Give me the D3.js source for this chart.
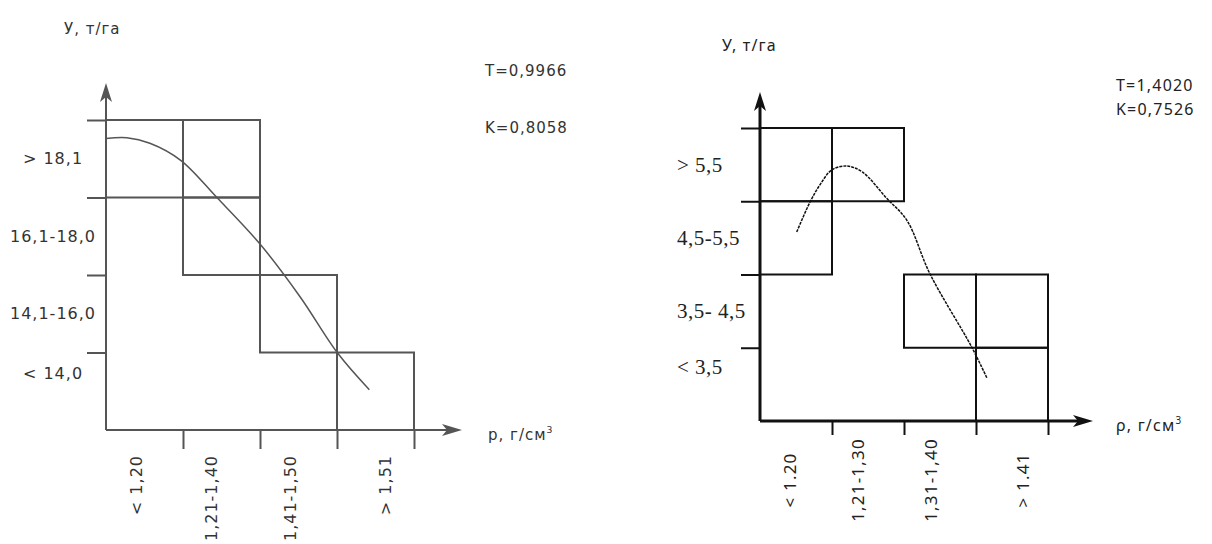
<!DOCTYPE html>
<html>
<head>
<meta charset="utf-8">
<script src="https://cdn.jsdelivr.net/npm/d3@7"></script>
<style>
  body { margin: 0; background: #fff; }
  svg { display: block; }
</style>
</head>
<body>
<svg id="chart" width="1212" height="544"></svg>
<script>
// left chart: yield vs soil density, first sample
const rowLabelsA = ["< 14,0", "14,1-16,0", "16,1-18,0", "> 18,1"];
const colLabelsA = ["< 1,20", "1,21-1,40", "1,41-1,50", "> 1,51"];
const cellsA = [[0, 3], [1, 3], [1, 2], [2, 1], [3, 0]]; // [column, row]
const curveA = [[0, 3.76], [0.27, 3.77], [0.57, 3.7], [0.97, 3.48], [1.44, 3.0],
  [2.0, 2.4], [2.52, 1.72], [3.01, 0.99], [3.42, 0.52]];
const statsA = ["T=0,9966", "K=0,8058"];

// right chart: second sample
const rowLabelsB = ["< 3,5", "3,5- 4,5", "4,5-5,5", "> 5,5"];
const colLabelsB = ["< 1.20", "1,21-1,30", "1,31-1,40", "> 1.41"];
const cellsB = [[0, 3], [1, 3], [0, 2], [2, 1], [3, 1], [3, 0]];
const curveB = [[0.51, 2.58], [0.69, 2.98], [0.83, 3.22], [1.0, 3.43], [1.21, 3.48],
  [1.42, 3.4], [1.76, 3.04], [2.04, 2.74], [2.36, 2.01], [2.94, 1.01], [3.15, 0.59]];
const statsB = ["T=1,4020", "K=0,7526"];

const svg = d3.select("#chart");

function drawPanel(opt) {
  const g = svg.append("g");
  const x = d3.scaleLinear().domain([0, 4]).range([opt.x0, opt.x1]);
  const y = d3.scaleLinear().domain([0, 4]).range([opt.y0, opt.y1]);

  // ticks
  const yAxis = g.append("g")
    .attr("transform", `translate(${opt.x0},0)`)
    .call(d3.axisLeft(y).tickValues([1, 2, 3, 4]).tickSize(19).tickFormat(""));
  const xAxis = g.append("g")
    .attr("transform", `translate(0,${opt.y0})`)
    .call(d3.axisBottom(x).tickValues([1, 2, 3, 4]).tickSize(opt.xTick).tickFormat(""));
  [yAxis, xAxis].forEach(a => {
    a.select(".domain").remove();
    a.selectAll("line").attr("stroke", opt.color).attr("stroke-width", opt.lw);
  });

  // cells
  g.selectAll("rect.cell").data(opt.cells).join("rect")
    .attr("class", "cell")
    .attr("x", d => x(d[0]))
    .attr("y", d => y(d[1] + 1))
    .attr("width", d => x(d[0] + 1) - x(d[0]))
    .attr("height", d => y(d[1]) - y(d[1] + 1))
    .attr("fill", "none")
    .attr("stroke", opt.color)
    .attr("stroke-width", opt.lw);

  // axes with arrows
  g.append("line")
    .attr("x1", opt.x0).attr("y1", opt.y0)
    .attr("x2", opt.x0).attr("y2", opt.yTip + 10)
    .attr("stroke", opt.color).attr("stroke-width", opt.axisW);
  g.append("line")
    .attr("x1", opt.x0).attr("y1", opt.y0)
    .attr("x2", opt.xTip - 10).attr("y2", opt.y0)
    .attr("stroke", opt.color).attr("stroke-width", opt.axisW);
  g.append("path")
    .attr("d", `M${opt.x0},${opt.yTip} L${opt.x0 - 6},${opt.yTip + 19} L${opt.x0},${opt.yTip + 14} L${opt.x0 + 6},${opt.yTip + 19}Z`)
    .attr("fill", opt.color);
  g.append("path")
    .attr("d", `M${opt.xTip},${opt.y0} L${opt.xTip - 20},${opt.y0 - 6} L${opt.xTip - 15},${opt.y0} L${opt.xTip - 20},${opt.y0 + 6}Z`)
    .attr("fill", opt.color);

  // fitted curve
  g.append("path")
    .datum(opt.curve)
    .attr("d", d3.line().x(d => x(d[0])).y(d => y(d[1])).curve(d3.curveCatmullRom))
    .attr("fill", "none")
    .attr("stroke", opt.curveColor)
    .attr("stroke-width", opt.curveW)
    .attr("stroke-dasharray", opt.dash);

  // row labels
  g.selectAll("text.row").data(opt.rows).join("text")
    .attr("class", "row")
    .attr("x", opt.rowX)
    .attr("y", (d, i) => y(i + 0.5) + (i === 0 ? -18 : 0))
    .attr("dy", "0.35em")
    .attr("text-anchor", opt.rowAnchor)
    .attr("font-family", opt.rowFont)
    .attr("font-size", opt.rowSize)
    .attr("letter-spacing", opt.rowSpacing)
    .attr("fill", opt.textColor)
    .text(d => d);

  // column labels (vertical)
  g.selectAll("text.col").data(opt.cols).join("text")
    .attr("class", "col")
    .attr("transform", (d, i) => `translate(${x(i + 0.5) + opt.colNudge[i]},${opt.colY}) rotate(-90)`)
    .attr("dy", "0.35em")
    .attr("text-anchor", opt.colAnchor)
    .attr("font-family", opt.font)
    .attr("font-size", opt.colSize)
    .attr("letter-spacing", opt.colSpacing)
    .attr("fill", opt.textColor)
    .text(d => d);

  // axis titles and statistics
  g.append("text")
    .attr("x", opt.yTitle[0]).attr("y", opt.yTitle[1])
    .attr("font-family", opt.font).attr("font-size", opt.titleSize)
    .attr("letter-spacing", opt.colSpacing)
    .attr("fill", opt.textColor)
    .text("У, т/га");
  const xt = g.append("text")
    .attr("x", opt.xTitle[0]).attr("y", opt.xTitle[1])
    .attr("font-family", opt.font).attr("font-size", opt.titleSize)
    .attr("letter-spacing", opt.colSpacing)
    .attr("fill", opt.textColor);
  xt.append("tspan").text(opt.xName + ", г/см");
  xt.append("tspan").attr("font-size", opt.titleSize * 0.62).attr("dy", -7).text("3");

  g.selectAll("text.stat").data(opt.stats).join("text")
    .attr("class", "stat")
    .attr("x", opt.statX)
    .attr("y", (d, i) => opt.statY + i * opt.statGap)
    .attr("font-family", opt.font).attr("font-size", opt.titleSize)
    .attr("letter-spacing", opt.colSpacing)
    .attr("fill", opt.textColor)
    .text(d => d);
}

drawPanel({
  x0: 106, x1: 414, y0: 430, y1: 120, yTip: 83, xTip: 462, xTick: 19,
  cells: cellsA, curve: curveA, rows: rowLabelsA, cols: colLabelsA, stats: statsA,
  color: "#555", lw: 2, axisW: 2, curveColor: "#555", curveW: 1.5, dash: null,
  textColor: "#333", font: "DejaVu Sans", rowFont: "DejaVu Sans",
  rowX: 53, rowAnchor: "middle", rowSize: 16, rowSpacing: 1,
  colSize: 16, colSpacing: 1, colY: 455, colAnchor: "end", colNudge: [-8, -10, -8, 10],
  titleSize: 15, yTitle: [64, 34], xTitle: [488, 440], xName: "p",
  statX: 485, statY: 76, statGap: 57
});

drawPanel({
  x0: 760, x1: 1048, y0: 421, y1: 128, yTip: 92, xTip: 1093, xTick: 14,
  cells: cellsB, curve: curveB, rows: rowLabelsB, cols: colLabelsB, stats: statsB,
  color: "#111", lw: 2, axisW: 3, curveColor: "#111", curveW: 1.5, dash: "3,1",
  textColor: "#222", font: "Noto Sans", rowFont: "Liberation Serif",
  rowX: 677, rowAnchor: "start", rowSize: 21, rowSpacing: 0.5,
  colSize: 17, colSpacing: 1.2, colY: 480, colAnchor: "middle", colNudge: [-6, -10, -9, 11],
  titleSize: 16, yTitle: [722, 51], xTitle: [1116, 431], xName: "ρ",
  statX: 1116, statY: 91, statGap: 24
});
</script>
</body>
</html>
